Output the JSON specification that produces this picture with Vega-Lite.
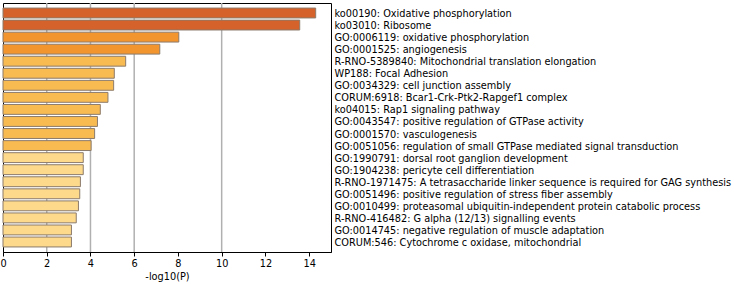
{
  "$schema": "https://vega.github.io/schema/vega-lite/v6.json",
  "autosize": "none",
  "width": 328,
  "height": 249,
  "padding": {"left": 3, "top": 3, "right": 403, "bottom": 32},
  "background": "white",
  "config": {
    "view": {"stroke": "#000000", "strokeWidth": 1},
    "font": "DejaVu Sans"
  },
  "data": {
    "values": [
      {"term": "ko00190: Oxidative phosphorylation", "p": 14.3},
      {"term": "ko03010: Ribosome", "p": 13.57},
      {"term": "GO:0006119: oxidative phosphorylation", "p": 8.04},
      {"term": "GO:0001525: angiogenesis", "p": 7.17},
      {"term": "R-RNO-5389840: Mitochondrial translation elongation", "p": 5.61},
      {"term": "WP188: Focal Adhesion", "p": 5.09},
      {"term": "GO:0034329: cell junction assembly", "p": 5.06},
      {"term": "CORUM:6918: Bcar1-Crk-Ptk2-Rapgef1 complex", "p": 4.8},
      {"term": "ko04015: Rap1 signaling pathway", "p": 4.45},
      {"term": "GO:0043547: positive regulation of GTPase activity", "p": 4.32},
      {"term": "GO:0001570: vasculogenesis", "p": 4.19},
      {"term": "GO:0051056: regulation of small GTPase mediated signal transduction", "p": 4.03},
      {"term": "GO:1990791: dorsal root ganglion development", "p": 3.67},
      {"term": "GO:1904238: pericyte cell differentiation", "p": 3.67},
      {"term": "R-RNO-1971475: A tetrasaccharide linker sequence is required for GAG synthesis", "p": 3.54},
      {"term": "GO:0051496: positive regulation of stress fiber assembly", "p": 3.51},
      {"term": "GO:0010499: proteasomal ubiquitin-independent protein catabolic process", "p": 3.45},
      {"term": "R-RNO-416482: G alpha (12/13) signalling events", "p": 3.35},
      {"term": "GO:0014745: negative regulation of muscle adaptation", "p": 3.13},
      {"term": "CORUM:546: Cytochrome c oxidase, mitochondrial", "p": 3.13}
    ]
  },
  "layer": [
    {
      "data": {"values": [{"g": 2}, {"g": 4}, {"g": 6}, {"g": 10}]},
      "mark": {"type": "rule", "color": "#b0b0b0", "strokeWidth": 1.5},
      "encoding": {
        "x": {"field": "g", "type": "quantitative", "scale": {"domain": [0, 15]}}
      }
    },
    {
      "mark": {"type": "bar", "stroke": "#8c7b6b", "strokeWidth": 1},
      "encoding": {
        "y": {
          "field": "term",
          "type": "nominal",
          "sort": null,
          "scale": {"paddingInner": 0.18, "paddingOuter": 0.42},
          "axis": {
            "orient": "right",
            "title": null,
            "ticks": false,
            "domain": false,
            "labelPadding": 3,
            "labelFontSize": 9.75,
            "labelOffset": 1,
            "labelColor": "#000000",
            "labelFont": "DejaVu Sans",
            "labelLimit": 500
          }
        },
        "x": {
          "field": "p",
          "type": "quantitative",
          "scale": {"domain": [0, 15], "nice": false},
          "axis": {
            "values": [0, 2, 4, 6, 8, 10, 12, 14],
            "grid": false,
            "title": "-log10(P)",
            "titleFontSize": 9.75,
            "titleFontWeight": "normal",
            "titleColor": "#000000",
            "titleFont": "DejaVu Sans",
            "titlePadding": 4,
            "labelFontSize": 9.75,
            "labelColor": "#000000",
            "labelFont": "DejaVu Sans",
            "labelFlush": false,
            "tickColor": "#000000",
            "tickSize": 4,
            "domainColor": "#000000"
          }
        },
        "color": {
          "field": "p",
          "type": "quantitative",
          "scale": {
            "type": "threshold",
            "domain": [4, 6, 10],
            "range": ["#fcd98b", "#f8bb52", "#f2952f", "#d4622a"]
          },
          "legend": null
        }
      }
    }
  ]
}
